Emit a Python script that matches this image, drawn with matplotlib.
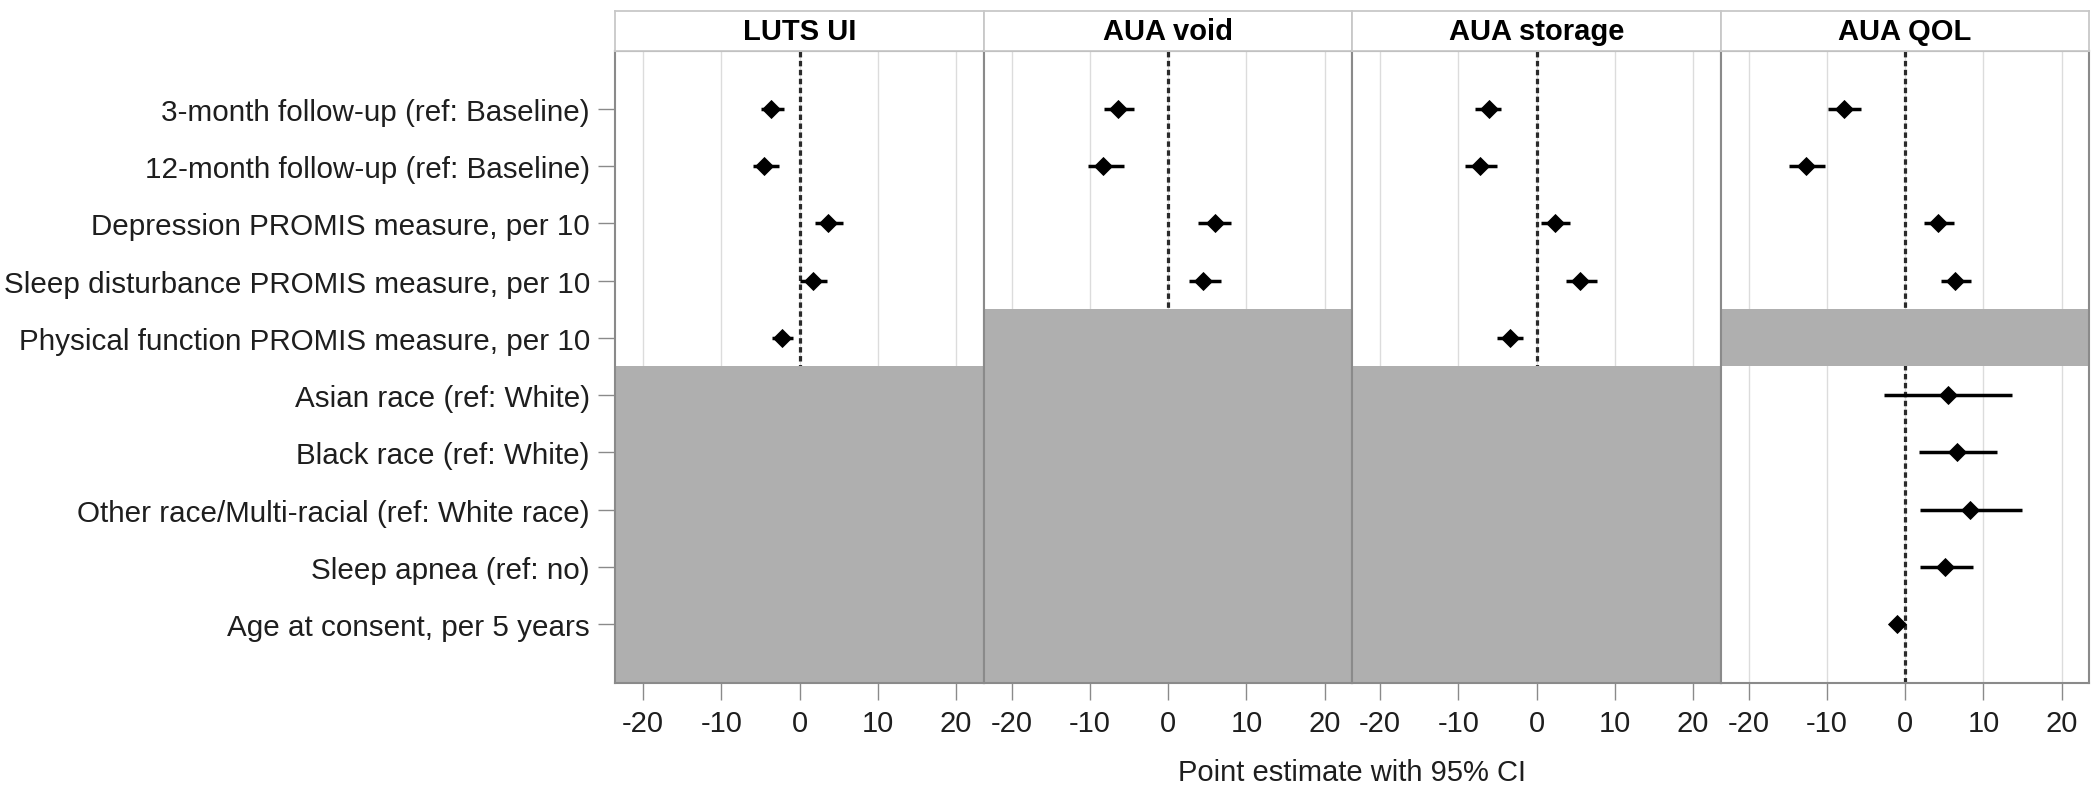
import numpy as np
import matplotlib.pyplot as plt

plt.rcParams['font.family'] = ['Liberation Sans', 'DejaVu Sans']
plt.rcParams['font.size'] = 21

nan = np.nan

# ==================== data ====================
row_labels = [
    '3-month follow-up (ref: Baseline)',
    '12-month follow-up (ref: Baseline)',
    'Depression PROMIS measure, per 10',
    'Sleep disturbance PROMIS measure, per 10',
    'Physical function PROMIS measure, per 10',
    'Asian race (ref: White)',
    'Black race (ref: White)',
    'Other race/Multi-racial (ref: White race)',
    'Sleep apnea (ref: no)',
    'Age at consent, per 5 years',
]
panel_titles = ['LUTS UI', 'AUA void', 'AUA storage', 'AUA QOL']

luts_est = [-3.6, -4.5, 3.6, 1.7, -2.2, nan, nan, nan, nan, nan]
luts_lo = [-5.0, -5.9, 2.0, 0.1, -3.5, nan, nan, nan, nan, nan]
luts_hi = [-2.0, -2.6, 5.5, 3.5, -0.8, nan, nan, nan, nan, nan]

void_est = [-6.4, -8.3, 6.0, 4.5, nan, nan, nan, nan, nan, nan]
void_lo = [-8.2, -10.3, 3.8, 2.7, nan, nan, nan, nan, nan, nan]
void_hi = [-4.3, -5.7, 8.0, 6.8, nan, nan, nan, nan, nan, nan]

stor_est = [-6.1, -7.2, 2.3, 5.6, -3.4, nan, nan, nan, nan, nan]
stor_lo = [-7.9, -9.2, 0.6, 3.8, -5.1, nan, nan, nan, nan, nan]
stor_hi = [-4.5, -5.1, 4.2, 7.7, -1.7, nan, nan, nan, nan, nan]

qol_est = [-7.8, -12.7, 4.2, 6.4, nan, 5.5, 6.6, 8.3, 5.1, -1.1]
qol_lo = [-9.9, -14.9, 2.4, 4.6, nan, -2.7, 1.8, 1.9, 1.9, -1.6]
qol_hi = [-5.6, -10.2, 6.2, 8.4, nan, 13.6, 11.7, 14.9, 8.7, -0.6]

xticks = [-20, -10, 0, 10, 20]

panels = [
    (luts_est, luts_lo, luts_hi),
    (void_est, void_lo, void_hi),
    (stor_est, stor_lo, stor_hi),
    (qol_est, qol_lo, qol_hi),
]

# ==================== layout ====================
fig = plt.figure(figsize=(21, 8.03), dpi=100)

left = 615 / 2100
pw = (2089 - 615) / 4 / 2100
bottom = 1 - 684 / 803
top = 1 - 52 / 803
head_h = 40 / 803
ylim = (11.03, -0.01)
xlim = (-23.6, 23.5)

spine_col = '#8a8a8a'
text_col = '#1e1e1e'
gray_fill = '#afafaf'

rows = np.arange(1, len(row_labels) + 1)

for i, (title, (est, lo, hi)) in enumerate(zip(panel_titles, panels)):
    ax = fig.add_axes([left + i * pw, bottom, pw, top - bottom])
    est = np.array(est)
    lo = np.array(lo)
    hi = np.array(hi)

    ax.set_xlim(xlim)
    ax.set_ylim(ylim)
    ax.set_axisbelow(True)
    ax.xaxis.grid(True, color='#dcdcdc', linewidth=1.0)

    # reference line at 0 (hidden under grey blocks)
    ax.axvline(0, color='#2a2a2a', linewidth=2.3, linestyle=(0, (1.7, 1.1)), zorder=1)

    # grey blocks where no estimate exists
    for r, v in zip(rows, est):
        if np.isnan(v):
            y1 = ylim[0] if r == rows[-1] else r + 0.5
            ax.axhspan(r - 0.5, y1, color=gray_fill, linewidth=0, zorder=2)

    ok = ~np.isnan(est)
    ax.hlines(rows[ok], lo[ok], hi[ok], color='black', linewidth=2.5, zorder=3)
    ax.plot(est[ok], rows[ok], linestyle='none', marker='D', markersize=9.5,
            color='black', markeredgewidth=0.6, zorder=4)

    ax.set_xticks(xticks)
    ax.set_xticklabels([str(t) for t in xticks])
    ax.tick_params(axis='x', length=12, width=1, color=spine_col, pad=7,
                   labelsize=21, labelcolor=text_col)

    if i == 0:
        ax.set_yticks(rows)
        ax.set_yticklabels(row_labels)
        ax.tick_params(axis='y', length=12, width=1, color=spine_col, pad=6,
                       labelsize=21.3, labelcolor=text_col)
    else:
        ax.set_yticks([])

    for s in ax.spines.values():
        s.set_color(spine_col)
        s.set_linewidth(1.5)

    # panel header
    hax = fig.add_axes([left + i * pw, top, pw, head_h])
    hax.set_xticks([])
    hax.set_yticks([])
    for s in hax.spines.values():
        s.set_color('#c8c8c8')
        s.set_linewidth(1.3)
    hax.text(0.5, 0.5, title, ha='center', va='center', fontweight='bold',
             fontsize=21, color='black', transform=hax.transAxes)

fig.text(left + 2 * pw, 1 - 773 / 803, 'Point estimate with 95% CI',
         ha='center', va='center', fontsize=21, color=text_col)

fig.savefig('out.png', dpi=100)
